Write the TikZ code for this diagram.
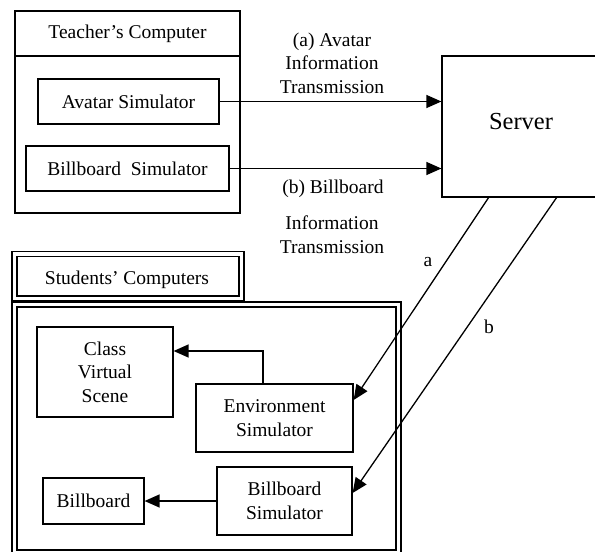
\documentclass[tikz,border=0pt]{standalone}
\usepackage{fontspec}
\setmainfont{Liberation Serif}
\usetikzlibrary{arrows.meta}
\begin{document}
\begin{tikzpicture}[x=1pt,y=-1pt,
  txt/.style={font=\fontsize{19.5}{23.5}\selectfont},
  box/.style={draw, line width=1.2pt, inner sep=0pt, align=center, txt},
  dbox/.style={draw, line width=1.7pt, double, double distance=3.3pt, inner sep=0pt, align=center, txt},
  lbl/.style={inner sep=0pt, align=center, txt},
  arr/.style={line width=1.3pt, -{Triangle[length=15pt,width=13pt]}}
]
\useasboundingbox (0,0) rectangle (595,552);
\clip (0,0) rectangle (595,552);

% Teacher's computer
\node[box, minimum width=225pt, minimum height=45pt] (thead) at (127.5,33.5) {Teacher’s Computer};
\node[box, minimum width=225pt, minimum height=157pt] (tmain) at (127.5,134.5) {};
\node[box, minimum width=181pt, minimum height=45pt] (avsim) at (128.5,101.5) {Avatar Simulator};
\node[box, minimum width=203pt, minimum height=45pt] (tbbsim) at (127.5,168.5) {Billboard\ \ Simulator};

% Server
\node[box, minimum width=158pt, minimum height=141pt] (server) at (521,126.5) {};
\node[lbl, font=\fontsize{24.5}{28}\selectfont] (servertext) at (521,122) {Server};

% Transmission arrows
\draw[arr] (avsim.east) -- (avsim.east -| server.west);
\draw[arr] (tbbsim.east) -- (tbbsim.east -| server.west);
\node[lbl] (la) at (332,63) {(a) Avatar\\Information\\Transmission};
\node[lbl] (lb1) at (333,189) {(b) Billboard};
\node[lbl] (lb2) at (332,234.5) {Information\\Transmission};

% Students' computers
\node[dbox, minimum width=227pt, minimum height=44.5pt] (shead) at (128,276.25) {};
\node[lbl] (sheadtext) at (127,280) {Students’ Computers};
\node[dbox, minimum width=384pt, minimum height=248pt] (smain) at (206.5,428.5) {};
\node[box, minimum width=136pt, minimum height=90pt] (cvs) at (105,372) {Class\\Virtual\\Scene};
\node[box, minimum width=157pt, minimum height=68pt] (envsim) at (274.5,418) {Environment\\Simulator};
\node[box, minimum width=135pt, minimum height=68pt] (sbbsim) at (284.5,501) {Billboard\\Simulator};
\node[box, minimum width=101pt, minimum height=46pt] (bboard) at (93.5,501) {Billboard};

\draw[arr] ([xshift=-11.5pt]envsim.north) |- ([yshift=21pt]cvs.east);
\draw[arr] (sbbsim.west) -- (bboard.east);

% Server to students
\coordinate (sa) at (489,197);
\coordinate (sb) at (557,197);
\draw[arr] (sa) -- ([yshift=18pt]envsim.east);
\draw[arr] (sb) -- ([yshift=8pt]sbbsim.east);
\node[lbl] (lba) at (428,262) {a};
\node[lbl] (lbb) at (489,326.5) {b};
\end{tikzpicture}
\end{document}
